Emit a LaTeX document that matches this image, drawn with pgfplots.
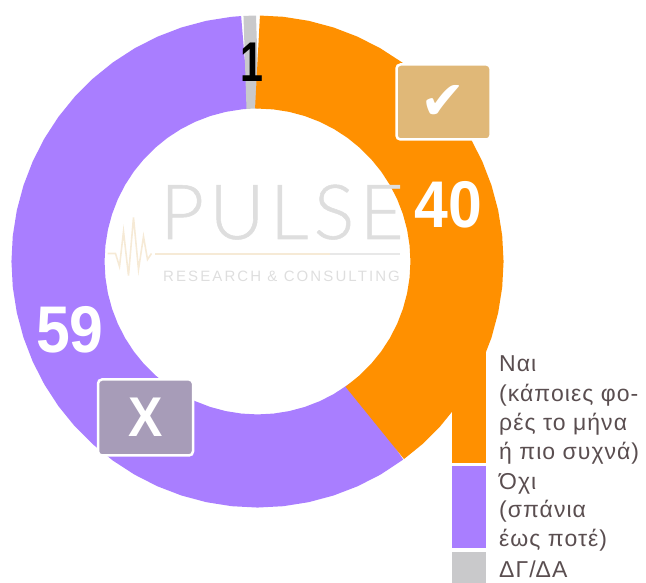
\documentclass[border=0pt]{standalone}
\usepackage{pgfplots}
\usepackage{fontspec}
\pgfplotsset{compat=1.18}
\setmainfont{Liberation Sans}[FakeStretch=0.92]
\newfontfamily\legfont{Liberation Sans}[LetterSpace=4.5]
\newfontfamily\symfont{DejaVu Sans}
\newfontfamily\logofont{Lato Light}[LetterSpace=7, FakeBold=0.7]
\newfontfamily\logosmall{Liberation Sans}[LetterSpace=14]
\definecolor{ringorange}{HTML}{FF9000}
\definecolor{ringpurple}{HTML}{A97EFF}
\definecolor{ringgray}{HTML}{C9C9CB}
\definecolor{legtext}{HTML}{5A4E50}
\definecolor{badgetan}{HTML}{E0B878}
\definecolor{badgegray}{HTML}{A79CB8}
\definecolor{logogray}{HTML}{DEDEDE}
\definecolor{logopale}{HTML}{F6EAD6}

\begin{document}
\begin{tikzpicture}
  % x = px - 257.5, y = 261.5 - py, so the ring centre is the origin
  \begin{axis}[
    name=main,
    scale only axis,
    width=646pt,
    height=583pt,
    xmin=-257.5, xmax=388.5,
    ymin=-321.5, ymax=261.5,
    hide axis,
  ]
    % 59 (starts just under the orange so no seam shows)
    \addplot[ringpurple, line width=93pt, data cs=polar, no markers] coordinates {
      (-53,199.5) (-60,199.5) (-66,199.5) (-72,199.5) (-78,199.5) (-84,199.5)
      (-90,199.5) (-96,199.5) (-102,199.5) (-108,199.5) (-114,199.5) (-120,199.5)
      (-126,199.5) (-132,199.5) (-138,199.5) (-144,199.5) (-150,199.5) (-156,199.5)
      (-162,199.5) (-168,199.5) (-174,199.5) (-180,199.5) (-186,199.5) (-192,199.5)
      (-198,199.5) (-204,199.5) (-210,199.5) (-216,199.5) (-222,199.5) (-228,199.5)
      (-234,199.5) (-240,199.5) (-246,199.5) (-252,199.5) (-258,199.5) (-264,199.5)
      (-266.4,199.5)};
    % 1
    \addplot[ringgray, line width=93pt, data cs=polar, no markers] coordinates {
      (-266.4,199.5) (-270,199.5)};
    % 40
    \addplot[ringorange, line width=93pt, data cs=polar, no markers] coordinates {
      (90,199.5) (84,199.5) (78,199.5) (72,199.5) (66,199.5) (60,199.5)
      (54,199.5) (48,199.5) (42,199.5) (36,199.5) (30,199.5) (24,199.5)
      (18,199.5) (12,199.5) (6,199.5) (0,199.5) (-6,199.5) (-12,199.5)
      (-18,199.5) (-24,199.5) (-30,199.5) (-36,199.5) (-42,199.5) (-48,199.5)
      (-54,199.5)};

    % legend swatches
    \addplot[fill=ringorange, draw=none] coordinates {
      (194.5,-90.5) (228.5,-90.5) (228.5,-201.5) (194.5,-201.5)} -- cycle;
    \addplot[fill=ringpurple, draw=none] coordinates {
      (194.5,-204.5) (228.5,-204.5) (228.5,-286.5) (194.5,-286.5)} -- cycle;
    \addplot[fill=ringgray, draw=none] coordinates {
      (194.5,-290.5) (228.5,-290.5) (228.5,-321.5) (194.5,-321.5)} -- cycle;

    % watermark
    \addplot[logopale, line width=1.6pt, no markers] coordinates {
      (-150,8) (-142,8) (-138,-5) (-134,30) (-129,-14) (-124,44) (-119,-8)
      (-114,25) (-110,2) (-106,8)};
    \addplot[logopale, line width=1.6pt, no markers] coordinates {(-102.5,7.5) (72.5,7.5)};
    \addplot[logogray!70, line width=2pt, no markers] coordinates {(72.5,7.5) (142.5,7.5)};
    \node[anchor=base west, inner sep=0, text=logogray, font=\fontsize{76}{76}\logofont]
      at (axis cs:-97.5,22.5) {PULSE};
    \node[anchor=base west, inner sep=0, text=logogray, font=\fontsize{15}{15}\logosmall]
      at (axis cs:-94.5,-20.5) {RESEARCH \& CONSULTING};

    % badges
    \node[fill=badgetan, draw=white, line width=2.5pt, rounded corners=4pt,
      minimum width=94pt, minimum height=75pt, inner sep=0]
      at (axis cs:186,159.5) {};
    \node[text=white, inner sep=0, font=\fontsize{54}{54}\symfont] at (axis cs:186,159.5) {✔};
    \node[fill=badgegray, draw=white, line width=2.5pt, rounded corners=4pt,
      minimum width=95pt, minimum height=76pt, inner sep=0]
      at (axis cs:-112,-156) {};
    \node[text=white, inner sep=0, font=\fontsize{56}{56}\bfseries] at (axis cs:-112,-156) {X};

    % value labels
    \node[text=white, inner sep=0, font=\fontsize{66}{66}\bfseries] at (axis cs:191,57) {40};
    \node[text=white, inner sep=0, font=\fontsize{66}{66}\bfseries] at (axis cs:-187.5,-68.5) {59};
    \node[text=black, inner sep=0, xscale=0.8, font=\fontsize{56}{56}\bfseries] at (axis cs:-6,199.5) {1};

    % legend text
    \foreach \yy/\tt in {-110.5/Ναι, -140.5/(κάποιες φο-, -169.5/ρές το μήνα,
        -198.5/ή πιο συχνά), -228.5/Όχι, -256.5/(σπάνια, -285.5/έως ποτέ), -316.5/ΔΓ\slash ΔΑ} {
      \edef\temp{\noexpand\node[anchor=base west, inner sep=0, text=legtext,
        font=\noexpand\fontsize{23}{23}\noexpand\legfont]
        at (axis cs:241.5,\yy) {\unexpanded\expandafter{\tt}};}
      \temp
    }
  \end{axis}
  \pgfresetboundingbox
  \path (main.south west) rectangle (main.north east);
\end{tikzpicture}
\end{document}
